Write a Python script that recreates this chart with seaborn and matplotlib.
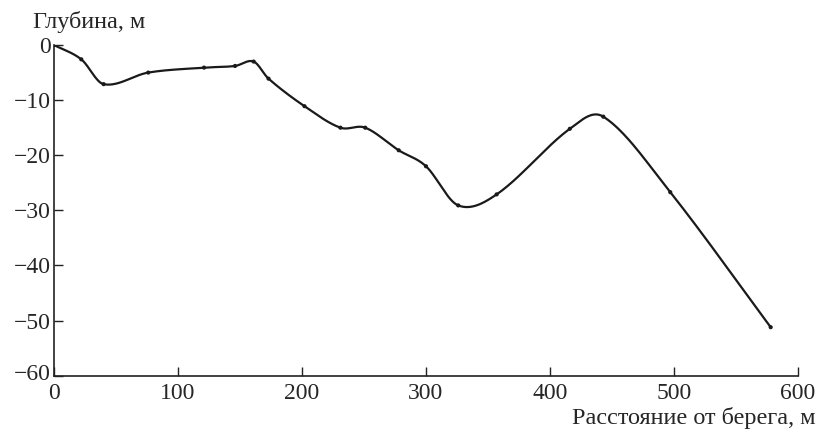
import numpy as np
import pandas as pd
import seaborn as sns
import matplotlib
matplotlib.use("Agg")
import matplotlib.pyplot as plt
from matplotlib.transforms import ScaledTranslation

# measured profile points (distance from shore, m; depth, m)
distance = [0, 22, 40, 76, 121, 146, 161, 173, 202, 231, 251, 278, 300, 326, 357, 416, 443, 497, 578]
depth = [0, -2.6, -7.1, -5.0, -4.1, -3.8, -3.0, -6.1, -11.1, -15.0, -15.0, -19.1, -22.0, -29.1, -27.1, -15.2, -13.0, -26.7, -51.2]

x_ticks = [0, 100, 200, 300, 400, 500, 600]
y_ticks = [0, -10, -20, -30, -40, -50, -60]


def smooth_line(x, y, n=40):
    # cubic Hermite segments through the measured points (drawing only)
    x = np.asarray(x, float)
    y = np.asarray(y, float)
    k = len(x)
    d = np.zeros(k)
    d[1:-1] = (y[2:] - y[:-2]) / (x[2:] - x[:-2])
    d[0] = (y[1] - y[0]) / (x[1] - x[0])
    d[-1] = (y[-1] - y[-2]) / (x[-1] - x[-2])
    xs, ys = [], []
    for i in range(k - 1):
        h = x[i + 1] - x[i]
        t = np.linspace(0, 1, n, endpoint=(i == k - 2))
        h00 = 2 * t ** 3 - 3 * t ** 2 + 1
        h10 = t ** 3 - 2 * t ** 2 + t
        h01 = -2 * t ** 3 + 3 * t ** 2
        h11 = t ** 3 - t ** 2
        xs.append(x[i] + t * h)
        ys.append(h00 * y[i] + h10 * h * d[i] + h01 * y[i + 1] + h11 * h * d[i + 1])
    return np.concatenate(xs), np.concatenate(ys)


sns.set_style("ticks")
plt.rcParams['font.family'] = ['Liberation Serif', 'DejaVu Serif']
plt.rcParams['xtick.direction'] = 'in'
plt.rcParams['ytick.direction'] = 'in'

pts = pd.DataFrame({'x': distance, 'y': depth})
sx, sy = smooth_line(distance, depth)
curve = pd.DataFrame({'x': sx, 'y': sy})

fig = plt.figure(figsize=(8.17, 4.30), dpi=100)
ax = fig.add_axes([0.0661, 0.1263, 0.9106, 0.769])

sns.lineplot(data=curve, x='x', y='y', ax=ax, color='#1a1a1a', linewidth=1.6, sort=False)
sns.scatterplot(data=pts, x='x', y='y', ax=ax, color='#1a1a1a', s=9, edgecolor='none', zorder=3)

ax.set_xlim(0, 600)
ax.set_ylim(-60, 0)
ax.set_xticks(x_ticks)
ax.set_yticks(y_ticks)
ax.set_xticklabels([str(v) for v in x_ticks])
ax.set_yticklabels([str(v).replace('-', '\u2212') for v in y_ticks])
ax.tick_params(axis='both', labelsize=17, length=6.5, width=1, color='#222222')
ax.tick_params(axis='x', pad=5)
ax.tick_params(axis='y', pad=2)
# nudge the lowest y label a little up so it clears the x "0"
lab = ax.get_yticklabels()[-1]
lab.set_transform(lab.get_transform() + ScaledTranslation(0, 3 / 72, fig.dpi_scale_trans))
ax.set_xlabel('')
ax.set_ylabel('')
sns.despine(ax=ax)
for s in ['left', 'bottom']:
    ax.spines[s].set_linewidth(1.2)
    ax.spines[s].set_color('#222222')

fig.text(0.04, 0.948, 'Глубина, м', fontsize=17.5, ha='left', va='center')
fig.text(0.998, 0.028, 'Расстояние от берега, м', fontsize=17.5, ha='right', va='center')

fig.savefig('out.png', dpi=100, facecolor='white')
